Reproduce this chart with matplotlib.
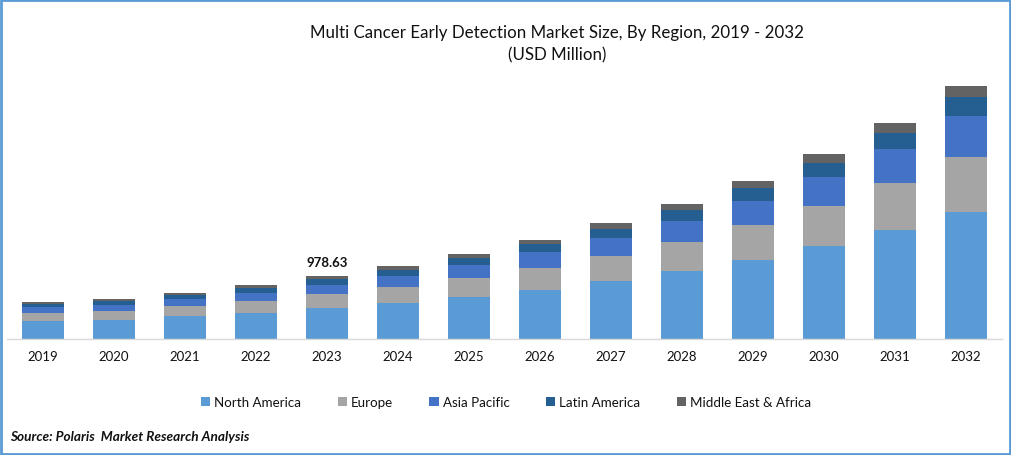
import matplotlib
matplotlib.use('Agg')
import matplotlib.pyplot as plt
from matplotlib.patches import Rectangle
import numpy as np

years = ['2019', '2020', '2021', '2022', '2023', '2024', '2025', '2026', '2027', '2028', '2029', '2030', '2031', '2032']
north_america = [280, 295, 357, 404, 481, 559, 652, 761, 901, 1056, 1227, 1444, 1693, 1972]
europe = [124, 140, 155, 186, 217, 248, 295, 342, 388, 450, 544, 621, 730, 854]
asia_pacific = [93, 93, 109, 124, 140, 171, 202, 248, 280, 326, 373, 450, 528, 637]
latin_america = [47, 62, 62, 78, 93, 93, 109, 124, 140, 171, 202, 217, 248, 295]
middle_east = [31, 31, 31, 47, 47, 62, 62, 62, 93, 93, 109, 140, 155, 171]

series = [('North America', north_america, '#5B9BD5'),
          ('Europe', europe, '#A5A5A5'),
          ('Asia Pacific', asia_pacific, '#4472C4'),
          ('Latin America', latin_america, '#255E91'),
          ('Middle East & Africa', middle_east, '#636363')]

plt.rcParams['font.family'] = ['Lato', 'DejaVu Sans']
W, H = 1011, 456
fig = plt.figure(figsize=(W / 100, H / 100), dpi=100)
ax = fig.add_axes([7 / W, (H - 340) / H, 995 / W, 269 / H])

x = np.arange(len(years))
bottom = np.zeros(len(years))
for name, vals, col in series:
    ax.bar(x, vals, 0.59, bottom=bottom, color=col, label=name)
    bottom += np.array(vals)

ax.set_xlim(-0.507, 13.507)
ax.set_ylim(0, 4178)
ax.set_xticks(x)
ax.set_xticklabels(years, fontsize=9.5, color='#111111')
ax.set_yticks([])
ax.tick_params(axis='x', length=0, pad=8)
for s in ['top', 'left', 'right']:
    ax.spines[s].set_visible(False)
ax.spines['bottom'].set_color('#D9D9D9')
ax.spines['bottom'].set_linewidth(1.0)

# only 2023 carries a label
ax.annotate('978.63', (4, bottom[4]), xytext=(0, 6), textcoords='offset points',
            ha='center', va='bottom', fontsize=9.5, fontweight='bold', color='#111111')

fig.text(557.5 / W, 1 - 44 / H, 'Multi Cancer Early Detection Market Size, By Region, 2019 - 2032\n(USD Million)',
         ha='center', va='center', fontsize=12.15, color='#111111', linespacing=1.45)

fig.legend(loc='center', bbox_to_anchor=(506 / W, 1 - 403 / H), ncol=5, frameon=False, fontsize=9.6,
           handlelength=0.68, handleheight=0.68, handletextpad=0.3, columnspacing=2.74, labelcolor='#111111')

fig.text(10.5 / W, 1 - 437 / H, 'Source: Polaris  Market Research Analysis', ha='left', va='center',
         fontsize=9.8, fontweight='bold', fontstyle='italic', color='#111111')

# blue frame round the picture
fig.add_artist(Rectangle((1 / W, 1 / H), (W - 2) / W, (H - 2) / H, transform=fig.transFigure,
                         fill=False, edgecolor='#5B9BD5', linewidth=2))

fig.savefig('out.png', dpi=100)
plt.close(fig)
